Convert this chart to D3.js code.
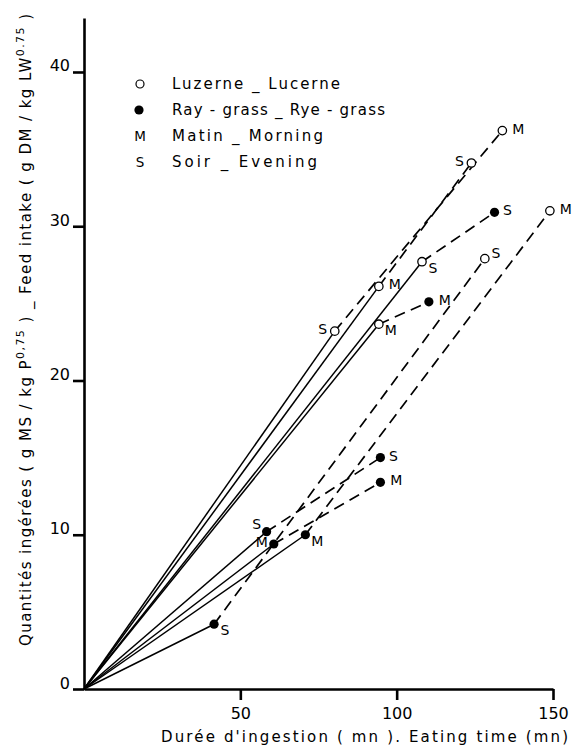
<!DOCTYPE html>
<html>
<head>
<meta charset="utf-8">
<script src="https://cdn.jsdelivr.net/npm/d3@7"></script>
<style>
  html, body { margin: 0; padding: 0; background: #fff; }
  svg { display: block; }
  text { font-family: "DejaVu Sans", "Liberation Sans", sans-serif; fill: #000; }
</style>
</head>
<body>
<svg id="chart" width="574" height="745"></svg>
<script>
// ---- data ----
const xTicks = [50, 100, 150];
const yTicks = [0, 10, 20, 30, 40];

// Luzerne (open circles)
const lucerneX = [133.8, 123.9, 149.0, 108.1, 128.2, 94.3, 80.2, 94.3];
const lucerneY = [36.2, 34.1, 31.0, 27.7, 27.9, 26.1, 23.2, 23.65];
const lucernePeriod = ["M", "S", "M", "S", "S", "M", "S", "M"];
const lucerneLabelPos = ["e", "w", "e", "se", "ne", "e", "w", "se"];

// Ray-grass (filled circles)
const ryeX = [131.3, 110.3, 94.8, 94.8, 58.4, 60.7, 70.8, 41.6];
const ryeY = [30.9, 25.1, 15.0, 13.4, 10.2, 9.4, 10.0, 4.2];
const ryePeriod = ["S", "M", "S", "M", "S", "M", "M", "S"];
const ryeLabelPos = ["e", "e", "e", "e", "nw", "w", "se", "se"];

// solid lines from the origin to these points
const solidTo = ["L6", "L5", "L3", "L7", "R4", "R5", "R6", "R7"];
// dashed links between points
const dashedFrom = ["L6", "L5", "L3", "L7", "R7", "R6", "R4", "R5"];
const dashedTo   = ["L0", "L1", "R0", "R1", "L4", "L2", "R2", "R3"];

const legendSymbols = ["open", "filled", "M", "S"];
const legendLabels = ["Luzerne _ Lucerne", "Ray - grass _ Rye - grass", "Matin _ Morning", "Soir _ Evening"];

const xTitle = "Durée d'ingestion ( mn ). Eating time (mn)";

// ---- build point table ----
const points = {};
lucerneX.forEach((v, i) => points["L" + i] = {x: v, y: lucerneY[i], kind: "open", period: lucernePeriod[i], pos: lucerneLabelPos[i]});
ryeX.forEach((v, i) => points["R" + i] = {x: v, y: ryeY[i], kind: "filled", period: ryePeriod[i], pos: ryeLabelPos[i]});

// ---- layout ----
const svg = d3.select("#chart");
svg.append("rect").attr("width", 574).attr("height", 745).attr("fill", "#fff");

const x = d3.scaleLinear().domain([0, 150]).range([84, 553]);
const yTop = 43.5;
const y = d3.scaleLinear().domain([0, yTop]).range([689, 18]);

// axes
const gx = svg.append("g").attr("transform", `translate(0,${y(0)})`)
  .call(d3.axisBottom(x).tickValues(xTicks).tickSize(11).tickSizeOuter(0).tickFormat(d3.format("d")));
const gy = svg.append("g").attr("transform", `translate(${x(0)},0)`)
  .call(d3.axisLeft(y).tickValues(yTicks).tickSize(11).tickSizeOuter(0).tickFormat(d3.format("d")));

[gx, gy].forEach(g => {
  g.select(".domain").attr("stroke", "#000").attr("stroke-width", 2.6);
  g.selectAll(".tick line").attr("stroke", "#000").attr("stroke-width", 2.6);
  g.selectAll(".tick text").attr("font-size", 16).attr("font-family", "DejaVu Sans, sans-serif").attr("fill", "#000");
});
gx.selectAll(".tick text").attr("dy", null).attr("y", 30);
gy.selectAll(".tick text").attr("dy", null).attr("x", -14).attr("y", -1);

// solid lines
const lines = svg.append("g").attr("fill", "none").attr("stroke", "#000");
solidTo.forEach(id => {
  const p = points[id];
  lines.append("line")
    .attr("x1", x(0)).attr("y1", y(0))
    .attr("x2", x(p.x)).attr("y2", y(p.y))
    .attr("stroke-width", 1.5);
});
// dashed lines
dashedFrom.forEach((id, i) => {
  const a = points[id], b = points[dashedTo[i]];
  lines.append("line")
    .attr("x1", x(a.x)).attr("y1", y(a.y))
    .attr("x2", x(b.x)).attr("y2", y(b.y))
    .attr("stroke-width", 1.7)
    .attr("stroke-dasharray", "11,6.5");
});

// markers
const marks = svg.append("g");
Object.values(points).forEach(p => {
  if (p.kind === "open") {
    marks.append("circle").attr("cx", x(p.x)).attr("cy", y(p.y)).attr("r", 4.2)
      .attr("fill", "#fff").attr("stroke", "#000").attr("stroke-width", 1.3);
  } else {
    marks.append("circle").attr("cx", x(p.x)).attr("cy", y(p.y)).attr("r", 4.6)
      .attr("fill", "#000");
  }
});

// point labels
const offs = {
  e:  (m) => [m ? 16 : 13, -2],
  ne: (m) => [m ? 13 : 11, -6],
  se: (m) => [m ? 12 : 11, 6],
  w:  (m) => [m ? -12 : -12, -2],
  nw: (m) => [-10, -8]
};
Object.values(points).forEach(p => {
  const o = offs[p.pos](p.period === "M");
  svg.append("text")
    .attr("x", x(p.x) + o[0]).attr("y", y(p.y) + o[1])
    .attr("text-anchor", "middle").attr("dominant-baseline", "central")
    .attr("font-size", 14)
    .text(p.period);
});

// legend
const legRowY = [84, 110, 136, 162];
const legWidths = [168, 213, 151, 145];
const leg = svg.append("g");
legendSymbols.forEach((s, i) => {
  const cy = legRowY[i];
  if (s === "open") {
    leg.append("circle").attr("cx", 140).attr("cy", cy).attr("r", 4).attr("fill", "#fff")
      .attr("stroke", "#000").attr("stroke-width", 1.2);
  } else if (s === "filled") {
    leg.append("circle").attr("cx", 139).attr("cy", cy).attr("r", 4.6).attr("fill", "#000");
  } else {
    leg.append("text").attr("x", 140).attr("y", cy).attr("text-anchor", "middle")
      .attr("dominant-baseline", "central").attr("font-size", 13.5).text(s);
  }
  leg.append("text").attr("x", 172).attr("y", cy + 5)
    .attr("font-size", 15)
    .attr("textLength", legWidths[i]).attr("lengthAdjust", "spacing")
    .text(legendLabels[i]);
});

// x-axis title
svg.append("text").attr("x", 161).attr("y", 742)
  .attr("font-size", 15).attr("textLength", 407).attr("lengthAdjust", "spacing")
  .text(xTitle);

// y-axis title (rotated)
const yt = svg.append("text")
  .attr("transform", "translate(31,646) rotate(-90)")
  .attr("font-size", 15).attr("textLength", 632).attr("lengthAdjust", "spacing");
yt.append("tspan").text("Quantités ingérées ( g MS / kg P");
yt.append("tspan").attr("font-size", 11).attr("dy", -7).text("0,75");
yt.append("tspan").attr("dy", 7).text(" ) _ Feed intake ( g DM / kg LW");
yt.append("tspan").attr("font-size", 11).attr("dy", -7).text("0.75");
yt.append("tspan").attr("dy", 7).text(" )");
</script>
</body>
</html>
